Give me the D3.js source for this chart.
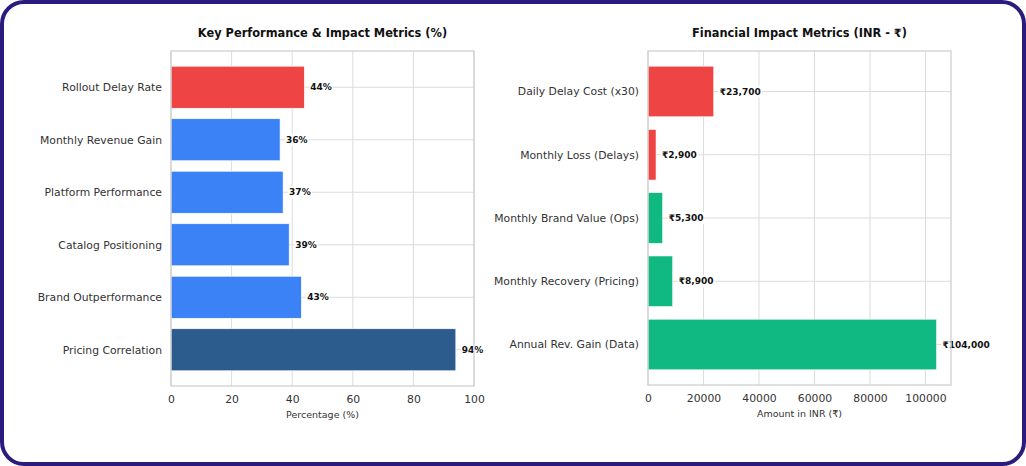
<html>
<head>
<title>Performance & Financial Impact</title>
<script src="https://d3js.org/d3.v7.min.js" charset="utf-8"></script>
<style>
body { margin: 0; background: white; font-family: "DejaVu Sans", sans-serif; }
</style>
</head>
<body>
<script>
// left panel data (top to bottom)
var kpiNames = ["Rollout Delay Rate", "Monthly Revenue Gain", "Platform Performance",
                "Catalog Positioning", "Brand Outperformance", "Pricing Correlation"];
var kpiValues = [44, 36, 37, 39, 43, 94];
var kpiColors = ["#ef4444", "#3b82f6", "#3b82f6", "#3b82f6", "#3b82f6", "#2c5b8e"];
var kpiTicks = [0, 20, 40, 60, 80, 100];

// right panel data (top to bottom)
var finNames = ["Daily Delay Cost (x30)", "Monthly Loss (Delays)", "Monthly Brand Value (Ops)",
                "Monthly Recovery (Pricing)", "Annual Rev. Gain (Data)"];
var finValues = [23700, 2900, 5300, 8900, 104000];
var finColors = ["#ef4444", "#ef4444", "#10b981", "#10b981", "#10b981"];
var finTicks = [0, 20000, 40000, 60000, 80000, 100000];

var width = 1026, height = 466;

var svg = d3.select("body").append("svg")
	.attr("width", width)
	.attr("height", height);

// rounded purple frame
svg.append("rect")
	.attr("x", 2).attr("y", 2)
	.attr("width", width - 4).attr("height", height - 4)
	.attr("rx", 22).attr("ry", 22)
	.attr("fill", "white")
	.attr("stroke", "#2d1a7e")
	.attr("stroke-width", 4);

function panel(opt) {
	var g = svg.append("g");
	var x = d3.scaleLinear().domain([0, opt.xmax]).range([opt.left, opt.right]);
	var n = opt.names.length;
	var pad = 0.4 + 0.05 * (n - 1 + 0.8);
	var y = d3.scaleLinear().domain([-pad, n - 1 + pad]).range([opt.top, opt.bottom]);

	// grid
	g.selectAll(".vg").data(opt.ticks).enter().append("line")
		.attr("x1", d => x(d)).attr("x2", d => x(d))
		.attr("y1", opt.top).attr("y2", opt.bottom)
		.attr("stroke", "#dcdcdc").attr("stroke-width", 1);
	g.selectAll(".hg").data(opt.names).enter().append("line")
		.attr("x1", opt.left).attr("x2", opt.right)
		.attr("y1", (d, i) => y(i)).attr("y2", (d, i) => y(i))
		.attr("stroke", "#dcdcdc").attr("stroke-width", 1);

	// bars
	g.selectAll(".bar").data(opt.values).enter().append("rect")
		.attr("x", x(0))
		.attr("y", (d, i) => y(i - 0.4))
		.attr("width", d => x(d) - x(0))
		.attr("height", y(0.4) - y(-0.4))
		.attr("fill", (d, i) => opt.colors[i])
		.attr("stroke", "white").attr("stroke-width", 0.6);

	// value labels with white box
	var lab = g.selectAll(".lab").data(opt.values).enter().append("g")
		.attr("transform", (d, i) => "translate(" + (x(d) + opt.offset) + "," + y(i) + ")");
	lab.append("rect")
		.attr("class", "bg")
		.attr("fill", "white");
	lab.append("text")
		.attr("dy", "0.35em")
		.attr("font-size", "9px")
		.attr("font-weight", "bold")
		.attr("fill", "#111")
		.text(opt.fmt);
	lab.each(function () {
		var t = d3.select(this).select("text").node().getBBox();
		d3.select(this).select("rect")
			.attr("x", t.x - 1).attr("y", t.y - 1)
			.attr("width", t.width + 2).attr("height", t.height + 2);
	});

	// spines
	g.append("rect")
		.attr("x", opt.left).attr("y", opt.top)
		.attr("width", opt.right - opt.left).attr("height", opt.bottom - opt.top)
		.attr("fill", "none").attr("stroke", "#cfcfcf").attr("stroke-width", 1.3);

	// y labels
	g.selectAll(".yl").data(opt.names).enter().append("text")
		.attr("x", opt.left - 9)
		.attr("y", (d, i) => y(i))
		.attr("dy", "0.35em")
		.attr("text-anchor", "end")
		.attr("font-size", "10.8px")
		.attr("fill", "#333")
		.text(d => d);

	// x axis
	var ax = g.append("g")
		.attr("transform", "translate(0," + opt.bottom + ")")
		.call(d3.axisBottom(x).tickValues(opt.ticks).tickSize(0).tickPadding(9).tickFormat(d => String(d)));
	ax.select(".domain").remove();
	ax.selectAll("text").attr("font-size", "10.8px").attr("fill", "#333")
		.attr("font-family", "DejaVu Sans");

	g.append("text")
		.attr("x", (opt.left + opt.right) / 2).attr("y", opt.bottom + 32)
		.attr("text-anchor", "middle")
		.attr("font-size", "9.5px").attr("fill", "#333")
		.text(opt.xlabel);

	g.append("text")
		.attr("x", (opt.left + opt.right) / 2).attr("y", 37)
		.attr("text-anchor", "middle")
		.attr("font-size", "11.4px").attr("font-weight", "bold").attr("fill", "#111")
		.text(opt.title);
}

panel({
	names: kpiNames, values: kpiValues, colors: kpiColors, ticks: kpiTicks,
	xmax: 100, left: 171, right: 474, top: 51, bottom: 386, offset: 6,
	fmt: d => d + "%",
	xlabel: "Percentage (%)",
	title: "Key Performance & Impact Metrics (%)"
});

panel({
	names: finNames, values: finValues, colors: finColors, ticks: finTicks,
	xmax: 104000 * 1.05, left: 648, right: 951, top: 51, bottom: 385, offset: 6,
	fmt: d => "₹" + d3.format(",")(d),
	xlabel: "Amount in INR (₹)",
	title: "Financial Impact Metrics (INR - ₹)"
});
</script>
</body>
</html>
